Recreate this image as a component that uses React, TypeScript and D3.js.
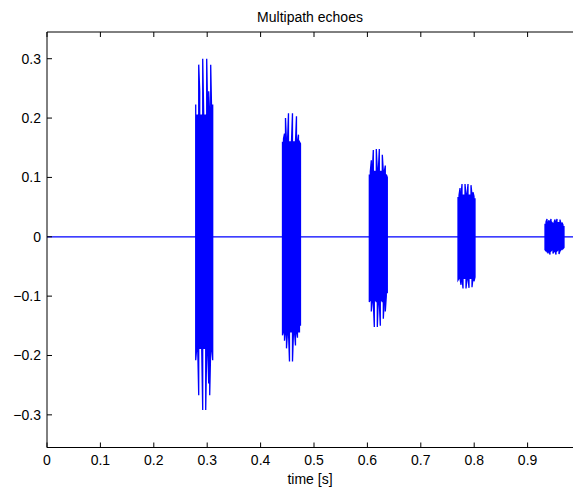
import React from "react";
import * as d3 from "d3";

const W = 573;
const H = 492;

const xTicks = [0, 0.1, 0.2, 0.3, 0.4, 0.5, 0.6, 0.7, 0.8, 0.9];
const yTicks = [-0.3, -0.2, -0.1, 0, 0.1, 0.2, 0.3];

// burst start times [s] and column step of the envelope samples
const burstStarts = [0.2785, 0.441, 0.6036, 0.7697, 0.9326];
const columnStep = 0.00187;

// upper / lower excursions
const burst1Hi = [0.223, 0.205, 0.205, 0.29, 0.245, 0.205, 0.205, 0.3, 0.205, 0.205, 0.205, 0.3, 0.205, 0.245, 0.205, 0.29, 0.205, 0.223];
const burst1Lo = [-0.208, -0.188, -0.188, -0.267, -0.188, -0.188, -0.188, -0.292, -0.188, -0.188, -0.292, -0.188, -0.188, -0.247, -0.267, -0.188, -0.188, -0.208];

const burst2Hi = [0.16, 0.165, 0.174, 0.2, 0.16, 0.16, 0.208, 0.16, 0.16, 0.16, 0.208, 0.16, 0.16, 0.16, 0.203, 0.16, 0.172, 0.16, 0.157];
const burst2Lo = [-0.166, -0.16, -0.175, -0.16, -0.188, -0.16, -0.16, -0.21, -0.16, -0.16, -0.21, -0.16, -0.16, -0.183, -0.16, -0.17, -0.16, -0.16, -0.15];

const burst3Hi = [0.105, 0.11, 0.129, 0.11, 0.146, 0.11, 0.11, 0.148, 0.11, 0.11, 0.148, 0.11, 0.11, 0.138, 0.11, 0.11, 0.12, 0.105, 0.1];
const burst3Lo = [-0.11, -0.105, -0.126, -0.105, -0.11, -0.152, -0.105, -0.11, -0.152, -0.105, -0.11, -0.15, -0.105, -0.11, -0.138, -0.105, -0.126, -0.1, -0.095];

const burst4Hi = [0.067, 0.07, 0.082, 0.07, 0.089, 0.07, 0.07, 0.089, 0.07, 0.07, 0.089, 0.07, 0.07, 0.087, 0.07, 0.075, 0.068, 0.065];
const burst4Lo = [-0.073, -0.07, -0.07, -0.081, -0.07, -0.087, -0.07, -0.07, -0.087, -0.07, -0.07, -0.086, -0.07, -0.07, -0.085, -0.07, -0.075, -0.068];

const burst5Hi = [0.022, 0.025, 0.03, 0.024, 0.028, 0.024, 0.03, 0.024, 0.022, 0.024, 0.029, 0.024, 0.03, 0.024, 0.024, 0.029, 0.022, 0.024, 0.02, 0.018];
const burst5Lo = [-0.022, -0.024, -0.022, -0.028, -0.024, -0.03, -0.024, -0.022, -0.028, -0.024, -0.024, -0.03, -0.024, -0.022, -0.029, -0.024, -0.022, -0.02, -0.02, -0.018];

const burstsHi = [burst1Hi, burst2Hi, burst3Hi, burst4Hi, burst5Hi];
const burstsLo = [burst1Lo, burst2Lo, burst3Lo, burst4Lo, burst5Lo];

const tEnd = 1.0;

const x = d3.scaleLinear().domain([0, 1]).range([47, 581]);
const y = d3.scaleLinear().domain([-0.355, 0.345]).range([447.5, 32]);

function buildPoints(): [number, number][] {
  const pts: [number, number][] = [[0, 0]];
  burstStarts.forEach((t0, b) => {
    const hi = burstsHi[b];
    const lo = burstsLo[b];
    pts.push([t0, 0]);
    hi.forEach((h, k) => {
      const t = t0 + k * columnStep;
      if (k % 2 === 0) {
        pts.push([t, h]);
        pts.push([t, lo[k]]);
      } else {
        pts.push([t, lo[k]]);
        pts.push([t, h]);
      }
    });
    pts.push([t0 + (hi.length - 1) * columnStep, 0]);
  });
  pts.push([tEnd, 0]);
  return pts;
}

const font = "'Liberation Sans', Arial, Helvetica, sans-serif";

export default function App() {
  const pts = buildPoints();
  const line = d3
    .line<[number, number]>()
    .x((d) => x(d[0]))
    .y((d) => y(d[1]));
  const x0 = x(0);
  const yTop = y(0.345);
  const yBot = y(-0.355);
  const fmt = (v: number) => (v < 0 ? "\u2212" + Math.abs(v).toString() : v.toString());

  return (
    <svg
      width={W}
      height={H}
      style={{ position: "absolute", left: 0, top: 0, background: "#fff" }}
      fontFamily={font}
    >
      <rect x={0} y={0} width={W} height={H} fill="#fff" />
      <path d={line(pts) || ""} fill="none" stroke="#0000ff" strokeWidth={1.3} />
      {/* axes box (left, top, bottom) */}
      <line x1={x0} x2={W} y1={yTop} y2={yTop} stroke="#000" strokeWidth={1} />
      <line x1={x0} x2={W} y1={yBot} y2={yBot} stroke="#000" strokeWidth={1} />
      <line x1={x0} x2={x0} y1={yTop} y2={yBot} stroke="#000" strokeWidth={1} />
      {xTicks.map((t) => (
        <g key={"x" + t}>
          <line x1={x(t)} x2={x(t)} y1={yBot} y2={yBot - 5} stroke="#000" />
          <line x1={x(t)} x2={x(t)} y1={yTop} y2={yTop + 5} stroke="#000" />
          <text x={x(t)} y={465} textAnchor="middle" fontSize={14} fill="#000">
            {t.toString()}
          </text>
        </g>
      ))}
      {yTicks.map((v) => (
        <g key={"y" + v}>
          <line x1={x0} x2={x0 + 5} y1={y(v)} y2={y(v)} stroke="#000" />
          <text x={41} y={y(v) + 5} textAnchor="end" fontSize={14} fill="#000">
            {fmt(v)}
          </text>
        </g>
      ))}
      <text x={310} y={22} textAnchor="middle" fontSize={14} fill="#000">
        Multipath echoes
      </text>
      <text x={310} y={484} textAnchor="middle" fontSize={14} fill="#000">
        time [s]
      </text>
    </svg>
  );
}
